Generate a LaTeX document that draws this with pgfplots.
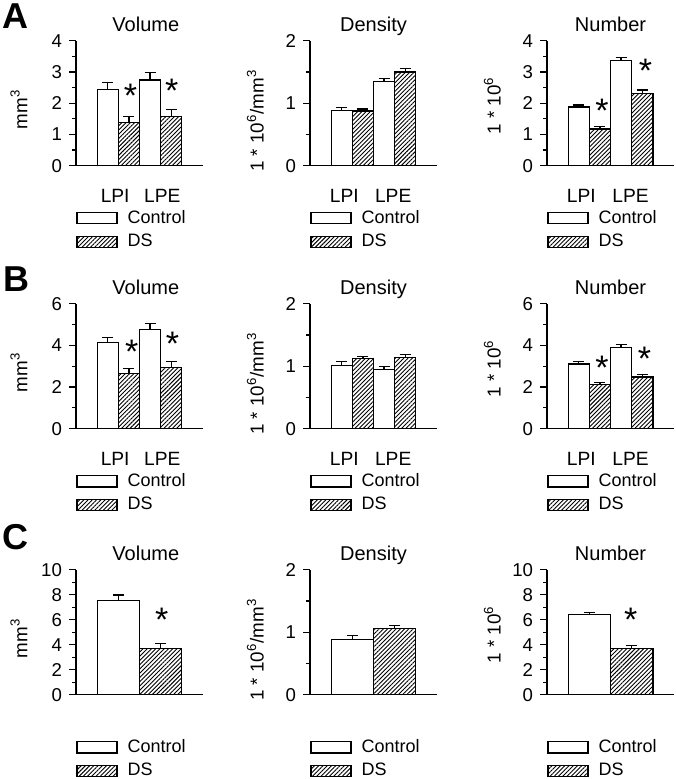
\documentclass[border=0pt]{standalone}
\usepackage{fontspec}
\setmainfont{Liberation Sans}
\usepackage{pgfplots}
\pgfplotsset{compat=1.18}
\usetikzlibrary{patterns.meta}

\pgfplotsset{
  panel/.style={
    scale only axis, width=63.5pt, height=62.5pt, anchor=south west,
    xmin=0, xmax=6, ymin=0, clip=false,
    axis x line*=bottom, axis y line*=left,
    axis line style={line width=0.7pt},
    tick align=outside, major tick length=3.5pt, minor tick length=2pt,
    every tick/.style={black, line width=0.6pt},
    x tick style={draw=none},
    minor y tick num=1,
    tick label style={font=\fontsize{9.3}{9.3}\selectfont},
    /pgf/number format/assume math mode=true,
    xticklabel style={font=\fontsize{9.6}{9.6}\selectfont, yshift=-5pt},
    ylabel style={font=\fontsize{9.4}{9.4}\selectfont, anchor=center},
    title style={font=\fontsize{10}{10}\selectfont, at={(0.5,1)}, anchor=base, yshift=-1.5pt},
    legend style={draw=none, fill=none, at={(0,-0.345)}, anchor=north west,
      font=\fontsize{9}{9}\selectfont, inner sep=0pt, row sep=3pt, column sep=4.5pt,
      nodes={inner sep=0.5pt}},
    legend cell align=left,
  },
  vol/.style={panel, title style={at={(0.55,1)}}, ylabel={mm\textsuperscript{3}},
    ylabel style={at={(axis description cs:-0.45,0.45)}}},
  den/.style={panel, ymax=2, ytick={0,1,2}, ylabel={1 * 10\textsuperscript{6}/mm\textsuperscript{3}},
    ylabel style={at={(axis description cs:-0.43,0.36)}}, title={Density}},
  num/.style={panel, ylabel={1 * 10\textsuperscript{6}},
    ylabel style={at={(axis description cs:-0.43,0.48)}}, title={Number}},
  twogroups/.style={xtick={#1}, xticklabels={LPI,LPE}},
  bars/.style={ybar, bar width=1, bar shift=0pt, draw=black, line width=0.65pt,
    area legend, legend image code/.code={\draw[##1] (0pt,-2.8pt) rectangle (20pt,2.8pt);},
    error bars/y dir=plus, error bars/y explicit,
    error bars/error bar style={line width=0.6pt, black},
    error bars/error mark options={rotate=90, mark size=2.75pt, line width=0.6pt, black}},
  ctrl/.style={bars, fill=white},
  ds/.style={bars, fill=white, postaction={pattern={Lines[angle=45, distance=1.5pt, line width=0.45pt]}, pattern color=black}},
}
\tikzset{sig/.style={font=\fontsize{17}{17}\selectfont, inner sep=0pt, yshift=-1.2pt}}

\begin{document}
\begin{tikzpicture}
\useasboundingbox (0,0) rectangle (337.5pt,-389.5pt);
\node[font=\bfseries\fontsize{18}{18}\selectfont] at (7.8pt,-8pt) {A};
\node[font=\bfseries\fontsize{18}{18}\selectfont] at (8.2pt,-139.5pt) {B};
\node[font=\bfseries\fontsize{18}{18}\selectfont] at (7.8pt,-268.5pt) {C};

% ---- row A
\begin{axis}[vol, at={(38pt,-82.85pt)}, ymax=4, ytick={0,1,2,3,4}, title={Volume}, twogroups={1.85,4.08}]
\addplot[ctrl] coordinates {(1.5,2.44) +- (0,0.23) (3.5,2.74) +- (0,0.25)};
\addplot[ds] coordinates {(2.5,1.38) +- (0,0.19) (4.5,1.58) +- (0,0.21)};
\legend{Control,DS}
\node[sig] at (axis cs:2.58,2.32) {*};
\node[sig] at (axis cs:4.52,2.48) {*};
\end{axis}
\begin{axis}[den, at={(155pt,-82.85pt)}, twogroups={1.62,3.93}]
\addplot[ctrl] coordinates {(1.5,0.886) +- (0,0.05) (3.5,1.35) +- (0,0.04)};
\addplot[ds] coordinates {(2.5,0.875) +- (0,0.032) (4.5,1.50) +- (0,0.05)};
\legend{Control,DS}
\end{axis}
\begin{axis}[num, at={(273.5pt,-82.85pt)}, ymax=4, ytick={0,1,2,3,4}, twogroups={1.62,3.95}]
\addplot[ctrl] coordinates {(1.5,1.875) +- (0,0.065) (3.5,3.37) +- (0,0.09)};
\addplot[ds] coordinates {(2.5,1.17) +- (0,0.08) (4.5,2.31) +- (0,0.11)};
\legend{Control,DS}
\node[sig] at (axis cs:2.6,1.83) {*};
\node[sig] at (axis cs:4.65,3.12) {*};
\end{axis}

% ---- row B
\begin{axis}[vol, at={(38pt,-214.35pt)}, ymax=6, ytick={0,2,4,6}, title={Volume}, twogroups={1.85,4.08}]
\addplot[ctrl] coordinates {(1.5,4.14) +- (0,0.24) (3.5,4.76) +- (0,0.30)};
\addplot[ds] coordinates {(2.5,2.65) +- (0,0.25) (4.5,2.95) +- (0,0.26)};
\legend{Control,DS}
\node[sig] at (axis cs:2.63,3.83) {*};
\node[sig] at (axis cs:4.56,4.19) {*};
\end{axis}
\begin{axis}[den, at={(155pt,-214.35pt)}, twogroups={1.62,3.93}]
\addplot[ctrl] coordinates {(1.5,1.01) +- (0,0.07) (3.5,0.947) +- (0,0.053)};
\addplot[ds] coordinates {(2.5,1.12) +- (0,0.04) (4.5,1.14) +- (0,0.05)};
\legend{Control,DS}
\end{axis}
\begin{axis}[num, at={(273.5pt,-214.35pt)}, ymax=6, ytick={0,2,4,6}, twogroups={1.62,3.95}]
\addplot[ctrl] coordinates {(1.5,3.10) +- (0,0.13) (3.5,3.91) +- (0,0.14)};
\addplot[ds] coordinates {(2.5,2.12) +- (0,0.11) (4.5,2.48) +- (0,0.11)};
\legend{Control,DS}
\node[sig] at (axis cs:2.6,3.04) {*};
\node[sig] at (axis cs:4.6,3.48) {*};
\end{axis}

% ---- row C
\begin{axis}[vol, at={(38pt,-347.35pt)}, ymax=10, ytick={0,2,4,6,8,10}, title={Volume}, xtick=\empty]
\addplot[ctrl, bar width=2] coordinates {(2,7.53) +- (0,0.45)};
\addplot[ds, bar width=2] coordinates {(4,3.70) +- (0,0.42)};
\legend{Control,DS}
\node[sig] at (axis cs:4.05,6.17) {*};
\end{axis}
\begin{axis}[den, at={(155pt,-347.35pt)}, xtick=\empty]
\addplot[ctrl, bar width=2] coordinates {(2,0.88) +- (0,0.064)};
\addplot[ds, bar width=2] coordinates {(4,1.056) +- (0,0.054)};
\legend{Control,DS}
\end{axis}
\begin{axis}[num, at={(273.5pt,-347.35pt)}, ymax=10, ytick={0,2,4,6,8,10}, xtick=\empty]
\addplot[ctrl, bar width=2] coordinates {(2,6.44) +- (0,0.13)};
\addplot[ds, bar width=2] coordinates {(4,3.72) +- (0,0.22)};
\legend{Control,DS}
\node[sig] at (axis cs:3.95,6.17) {*};
\end{axis}
\end{tikzpicture}
\end{document}
